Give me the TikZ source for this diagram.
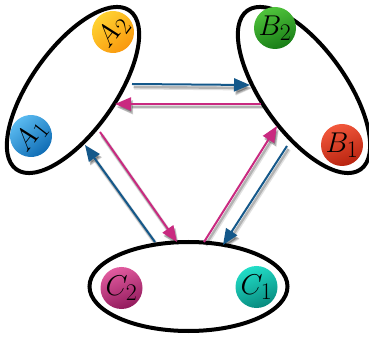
\documentclass[tikz,border=0pt]{standalone}
\usepackage{graphicx}
\usetikzlibrary{arrows.meta,shapes.geometric}

\definecolor{linkblue}{RGB}{20,88,138}
\definecolor{linkpink}{RGB}{201,42,128}
\newcommand{\agentlabel}[1]{\scalebox{1.15}{$#1$}}

\begin{document}
\begin{tikzpicture}[x=1pt,y=-1pt,
  group/.style={draw=black, line width=4pt, ellipse, inner sep=0pt,
    minimum width=195pt, minimum height=84pt},
  agent/.style={circle, inner sep=0pt, minimum size=42pt, font=\Huge},
  link/.style={line width=2pt, -{Triangle[length=16pt,width=13pt]},
    preaction={draw=black, opacity=0.12, line width=4pt,
      transform canvas={shift={(2pt,-3.5pt)}}},
    preaction={draw=black, opacity=0.2, line width=2.4pt,
      transform canvas={shift={(1.5pt,-3pt)}}}},
  ]
\useasboundingbox (0,0) rectangle (369,344);

% the three groups
\node[group, rotate=54.5] (A) at (73,90) {};
\node[group, rotate=-54.5] (B) at (304,90) {};
\node[group, minimum width=198pt, minimum height=89pt] (C) at (188.5,286.5) {};

% agents
\node[agent, top color={rgb,255:red,255;green,214;blue,51},
  bottom color={rgb,255:red,249;green,150;blue,12}, shading angle=40,
  rotate=52] (a2) at (113,32) {\agentlabel{A_2}};
\node[agent, top color={rgb,255:red,95;green,192;blue,245},
  bottom color={rgb,255:red,12;green,105;blue,178}, shading angle=40,
  rotate=52] (a1) at (31,136) {\agentlabel{A_1}};
\node[agent, top color={rgb,255:red,80;green,196;blue,60},
  bottom color={rgb,255:red,24;green,125;blue,22}, shading angle=20]
  (b2) at (275,28) {\agentlabel{B_2}};
\node[agent, top color={rgb,255:red,242;green,88;blue,60},
  bottom color={rgb,255:red,184;green,35;blue,15}, shading angle=20]
  (b1) at (342,145) {\agentlabel{B_1}};
\node[agent, top color={rgb,255:red,226;green,92;blue,160},
  bottom color={rgb,255:red,146;green,26;blue,92}, shading angle=20]
  (c2) at (121.5,288) {\agentlabel{C_2}};
\node[agent, top color={rgb,255:red,34;green,222;blue,200},
  bottom color={rgb,255:red,8;green,138;blue,126}, shading angle=20]
  (c1) at (256.5,287) {\agentlabel{C_1}};

% arrow ends on the group borders
\coordinate (ab-out) at (132,84);
\coordinate (ab-in) at (250,85);
\coordinate (ba-out) at (261,104);
\coordinate (ba-in) at (115,104);
\coordinate (ac-out) at (100,132);
\coordinate (ac-in) at (177,242);
\coordinate (ca-out) at (155,242);
\coordinate (ca-in) at (85,145);
\coordinate (cb-out) at (204,242);
\coordinate (cb-in) at (277,126);
\coordinate (bc-out) at (287,146);
\coordinate (bc-in) at (223,245);

\draw[link, linkblue] (ab-out) -- (ab-in);
\draw[link, linkpink] (ba-out) -- (ba-in);
\draw[link, linkpink] (ac-out) -- (ac-in);
\draw[link, linkblue] (ca-out) -- (ca-in);
\draw[link, linkpink] (cb-out) -- (cb-in);
\draw[link, linkblue] (bc-out) -- (bc-in);
\end{tikzpicture}
\end{document}
